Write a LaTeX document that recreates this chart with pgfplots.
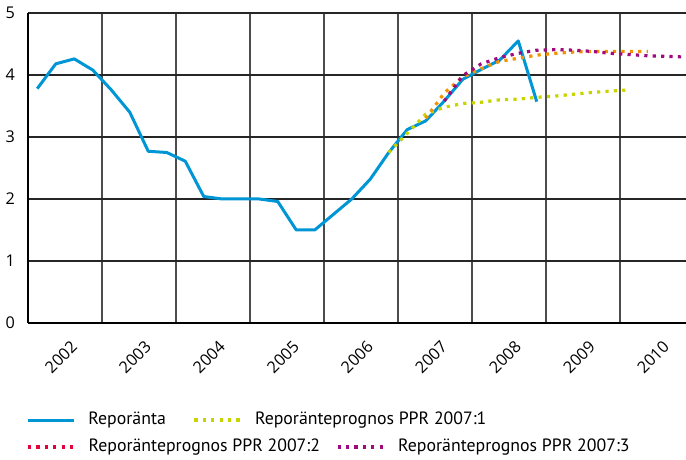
\documentclass[border=0pt]{standalone}
\usepackage{pgfplots}
\pgfplotsset{compat=1.18}
\usepackage{fontspec}
\setmainfont{PT Sans}
\newfontfamily\tickfont{Open Sans}
\definecolor{repoblue}{RGB}{0,150,214}
\definecolor{ppryellow}{RGB}{200,212,0}
\definecolor{pprorange}{RGB}{243,146,0}
\definecolor{pprred}{RGB}{228,0,58}
\definecolor{pprmagenta}{RGB}{160,10,125}

\pgfplotsset{
  dotline/.style={line width=1.6pt, dash pattern=on 1.6pt off 2.6pt},
  legstyle/.style={
    legend columns=-1,
    legend style={draw=none, fill=none, inner sep=0pt, anchor=west,
      font=\fontsize{8.9}{11}\selectfont,
      nodes={inner sep=0pt},
      /tikz/every odd column/.append style={column sep=6.5pt}},
    legend image code/.code={\draw[##1] (0pt,0pt) -- (23pt,0pt);},
  },
}

\begin{document}
\begin{tikzpicture}
\useasboundingbox (-14pt,-68.5pt) rectangle (329pt,161.5pt);
\begin{axis}[
  at={(0,0)}, anchor=south west,
  scale only axis, width=329pt, height=155pt,
  xmin=2002, xmax=2010.892, ymin=0, ymax=5,
  axis lines=left, axis line style={-, line width=0.9pt, black},
  xtick={2002.5,2003.5,2004.5,2005.5,2006.5,2007.5,2008.5,2009.5,2010.5},
  xticklabels={2002,2003,2004,2005,2006,2007,2008,2009,2010},
  minor xtick={2003,2004,2005,2006,2007,2008,2009,2010},
  ytick={0,1,2,3,4,5},
  ymajorgrids, xminorgrids,
  major grid style={black!85, line width=0.7pt},
  minor grid style={black!70, line width=0.7pt},
  major tick length=0pt, minor tick length=0pt,
  tick label style={font=\tickfont\fontsize{8.1}{9}\selectfont},
  /pgf/number format/assume math mode=true,
  xticklabel style={xshift=-2pt, yshift=-17pt, rotate=45, anchor=center},
  yticklabel style={xshift=-3pt},
  legstyle,
  legend style={at={(-0.003,-0.313)},
    /tikz/every even column/.append style={column sep=13.5pt}},
]
\addplot[repoblue, line width=1.5pt, line join=round] coordinates {
(2002.125,3.78) (2002.375,4.18) (2002.625,4.26) (2002.875,4.08)
(2003.125,3.76) (2003.375,3.40) (2003.625,2.77) (2003.875,2.75)
(2004.125,2.61) (2004.375,2.04) (2004.625,2.00) (2004.875,2.00)
(2005.125,2.00) (2005.375,1.96) (2005.625,1.50) (2005.875,1.50)
(2006.125,1.75) (2006.375,2.00) (2006.625,2.32) (2006.875,2.75)
(2007.125,3.12) (2007.375,3.26) (2007.625,3.58) (2007.875,3.93)
(2008.125,4.09) (2008.375,4.24) (2008.625,4.55) (2008.875,3.57)
};
\addlegendentry{Reporänta}
\addplot[ppryellow, dotline] coordinates {
(2006.875,2.75) (2007.125,3.06) (2007.375,3.37) (2007.625,3.48)
(2007.875,3.54) (2008.125,3.56) (2008.375,3.60) (2008.625,3.61)
(2008.875,3.64) (2009.125,3.66) (2009.375,3.69) (2009.625,3.72)
(2009.875,3.74) (2010.125,3.76)
};
\addlegendentry{Reporänteprognos PPR 2007:1}
\addplot[pprorange, dotline, forget plot] coordinates {
(2007.375,3.30) (2007.625,3.71) (2007.875,3.97) (2008.125,4.10)
(2008.375,4.22) (2008.625,4.27) (2008.875,4.32) (2009.125,4.35)
(2009.375,4.37) (2009.625,4.38) (2009.875,4.38) (2010.125,4.38)
(2010.375,4.38)
};
\addplot[pprmagenta, dotline, forget plot] coordinates {
(2007.625,3.58) (2007.875,3.99) (2008.125,4.18) (2008.375,4.28)
(2008.625,4.35) (2008.875,4.40) (2009.125,4.41) (2009.375,4.40)
(2009.625,4.38) (2009.875,4.35) (2010.125,4.33) (2010.375,4.31)
(2010.625,4.30) (2010.875,4.29)
};
\end{axis}
\begin{axis}[
  at={(0,0)}, anchor=south west,
  scale only axis, width=329pt, height=155pt,
  xmin=0, xmax=1, ymin=0, ymax=1, hide axis,
  legstyle,
  legend style={at={(-0.003,-0.4)},
    /tikz/every even column/.append style={column sep=8pt}},
]
\addlegendimage{pprred, dotline}
\addlegendentry{Reporänteprognos PPR 2007:2}
\addlegendimage{pprmagenta, dotline}
\addlegendentry{Reporänteprognos PPR 2007:3}
\end{axis}
\end{tikzpicture}
\end{document}
